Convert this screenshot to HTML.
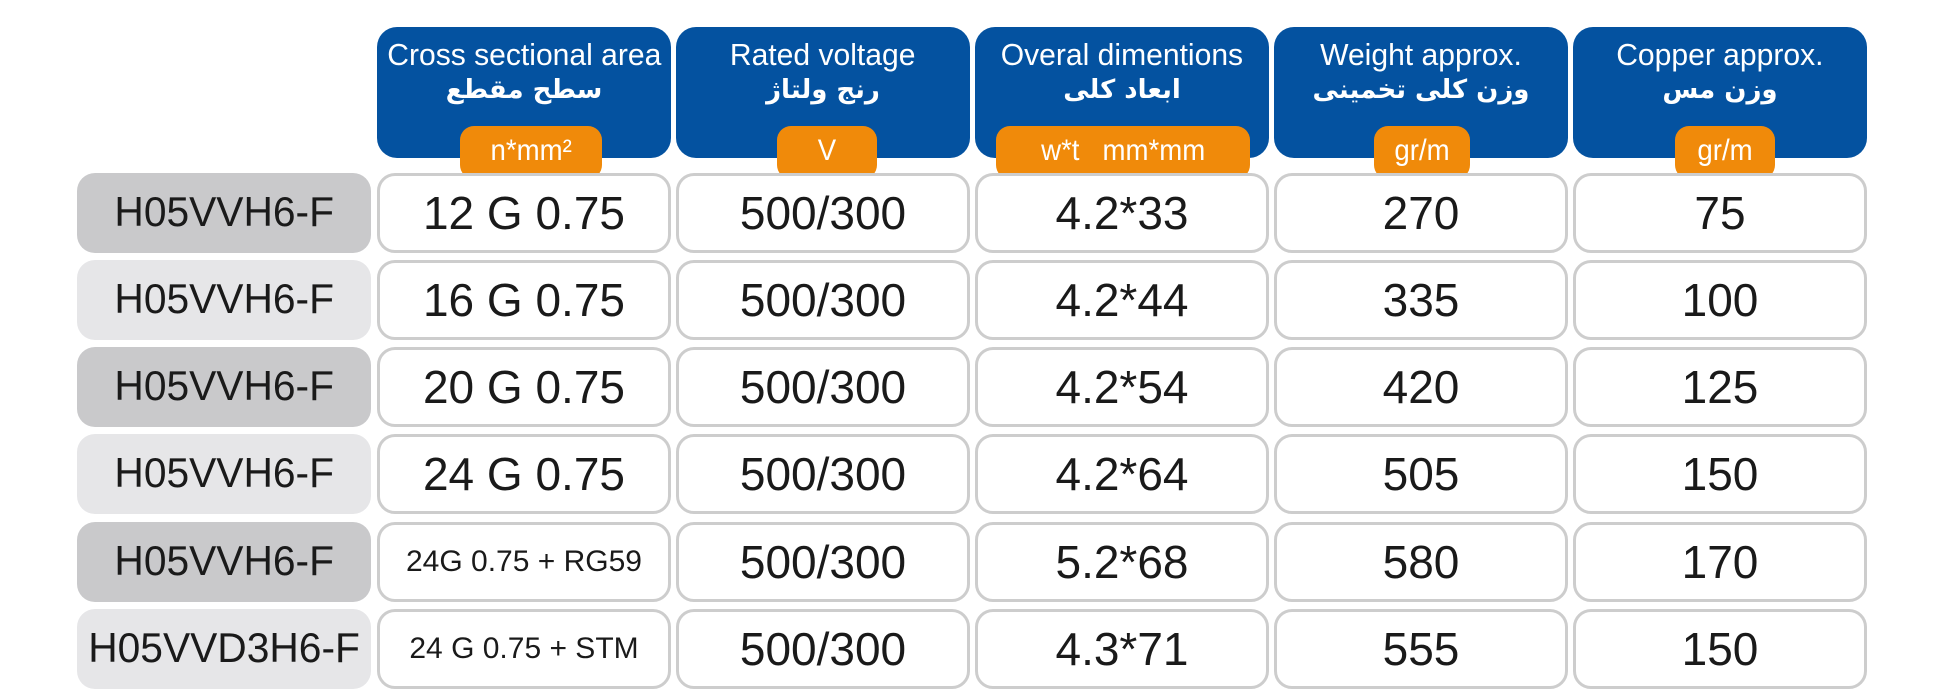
<!DOCTYPE html>
<html><head><meta charset="utf-8"><style>
body{margin:0;width:1938px;height:692px;background:#fff;position:relative;overflow:hidden;font-family:"Liberation Sans",sans-serif;}
.n{display:inline-block;transform:scaleX(1);transform-origin:center;white-space:nowrap}
.l .n{transform:scaleX(0.97)}
.s .n{transform:none}
.h{position:absolute;top:27px;height:131px;width:294px;background:#0452a0;border-radius:20px;color:#fff;text-align:center}
.h .e{position:absolute;top:10px;left:0;right:0;font-size:31px}
.h .e .n{transform:scaleX(0.97)}
.h .a{position:absolute;top:48px;left:0;right:0;font-size:26px;font-weight:bold;font-family:"DejaVu Sans",sans-serif;direction:rtl}
.p{position:absolute;top:126px;height:53px;background:#f08a0a;border-radius:14px;color:#fff;font-size:30px;text-align:center;line-height:50px}
.p .n{transform:scaleX(0.92)}
.c{position:absolute;height:74px;width:288px;border:3px solid #cdcdcd;border-radius:18px;background:#fff;text-align:center;line-height:74px;font-size:46px;color:#1a1a1a}
.l{position:absolute;left:77px;width:294px;height:80px;border-radius:18px;text-align:center;line-height:78px;font-size:42px;color:#1a1a1a}
.c.s{font-size:30px}
</style></head><body>
<div class="h" style="left:377px"><div class="e"><span class="n">Cross sectional area</span></div><div class="a">سطح مقطع</div></div>
<div class="h" style="left:676px"><div class="e"><span class="n">Rated voltage</span></div><div class="a">رنج ولتاژ</div></div>
<div class="h" style="left:975px"><div class="e"><span class="n">Overal dimentions</span></div><div class="a">ابعاد کلی</div></div>
<div class="h" style="left:1274px"><div class="e"><span class="n">Weight approx.</span></div><div class="a">وزن کلی تخمینی</div></div>
<div class="h" style="left:1573px"><div class="e"><span class="n">Copper approx.</span></div><div class="a">وزن مس</div></div>
<div class="p" style="left:460px;width:142px"><span class="n">n*mm²</span></div>
<div class="p" style="left:777px;width:100px"><span class="n">V</span></div>
<div class="p" style="left:996px;width:254px"><span class="n">w*t&nbsp;&nbsp;&nbsp;mm*mm</span></div>
<div class="p" style="left:1374px;width:96px"><span class="n">gr/m</span></div>
<div class="p" style="left:1675px;width:100px"><span class="n">gr/m</span></div>

<div class="l" style="top:173px;background:#c9c9cb"><span class="n">H05VVH6-F</span></div>
<div class="l" style="top:260px;background:#e6e6e8"><span class="n">H05VVH6-F</span></div>
<div class="l" style="top:347px;background:#c9c9cb"><span class="n">H05VVH6-F</span></div>
<div class="l" style="top:434px;background:#e6e6e8"><span class="n">H05VVH6-F</span></div>
<div class="l" style="top:522px;background:#c9c9cb"><span class="n">H05VVH6-F</span></div>
<div class="l" style="top:609px;background:#e6e6e8"><span class="n">H05VVD3H6-F</span></div>

<div class="c" style="left:377px;top:173px"><span class="n">12 G 0.75</span></div>
<div class="c" style="left:676px;top:173px"><span class="n">500/300</span></div>
<div class="c" style="left:975px;top:173px"><span class="n">4.2*33</span></div>
<div class="c" style="left:1274px;top:173px"><span class="n">270</span></div>
<div class="c" style="left:1573px;top:173px"><span class="n">75</span></div>

<div class="c" style="left:377px;top:260px"><span class="n">16 G 0.75</span></div>
<div class="c" style="left:676px;top:260px"><span class="n">500/300</span></div>
<div class="c" style="left:975px;top:260px"><span class="n">4.2*44</span></div>
<div class="c" style="left:1274px;top:260px"><span class="n">335</span></div>
<div class="c" style="left:1573px;top:260px"><span class="n">100</span></div>

<div class="c" style="left:377px;top:347px"><span class="n">20 G 0.75</span></div>
<div class="c" style="left:676px;top:347px"><span class="n">500/300</span></div>
<div class="c" style="left:975px;top:347px"><span class="n">4.2*54</span></div>
<div class="c" style="left:1274px;top:347px"><span class="n">420</span></div>
<div class="c" style="left:1573px;top:347px"><span class="n">125</span></div>

<div class="c" style="left:377px;top:434px"><span class="n">24 G 0.75</span></div>
<div class="c" style="left:676px;top:434px"><span class="n">500/300</span></div>
<div class="c" style="left:975px;top:434px"><span class="n">4.2*64</span></div>
<div class="c" style="left:1274px;top:434px"><span class="n">505</span></div>
<div class="c" style="left:1573px;top:434px"><span class="n">150</span></div>

<div class="c s" style="left:377px;top:522px"><span class="n">24G 0.75 + RG59</span></div>
<div class="c" style="left:676px;top:522px"><span class="n">500/300</span></div>
<div class="c" style="left:975px;top:522px"><span class="n">5.2*68</span></div>
<div class="c" style="left:1274px;top:522px"><span class="n">580</span></div>
<div class="c" style="left:1573px;top:522px"><span class="n">170</span></div>

<div class="c s" style="left:377px;top:609px"><span class="n">24 G 0.75 + STM</span></div>
<div class="c" style="left:676px;top:609px"><span class="n">500/300</span></div>
<div class="c" style="left:975px;top:609px"><span class="n">4.3*71</span></div>
<div class="c" style="left:1274px;top:609px"><span class="n">555</span></div>
<div class="c" style="left:1573px;top:609px"><span class="n">150</span></div>
</body></html>
